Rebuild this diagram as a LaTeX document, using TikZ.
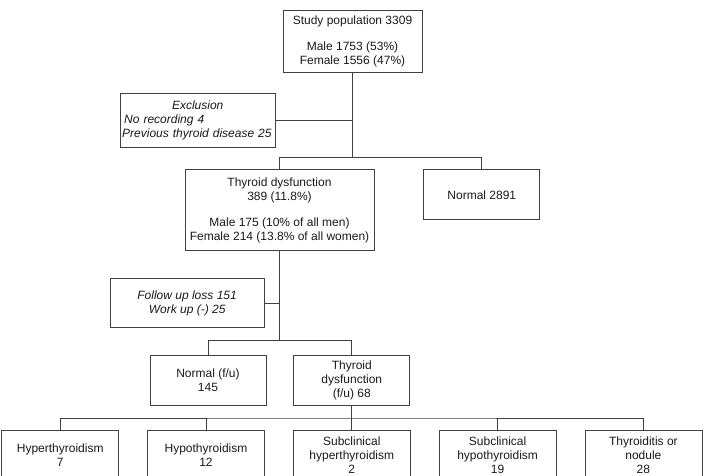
\documentclass[tikz,border=0pt]{standalone}
\usepackage{fontspec}
\setmainfont{Liberation Sans}
\usetikzlibrary{positioning}
\tikzset{
  font=\fontsize{12}{14}\selectfont,
  pbox/.style ={draw=black!75, line width=0.8pt, align=center, inner sep=2pt, minimum width=116pt, minimum height=50pt, text=black!90},
  leaf/.style ={pbox, minimum width=117pt},
  note/.style ={pbox, font=\fontsize{12}{14}\selectfont\itshape},
  link/.style ={draw=black!75, line width=0.8pt},
}

\begin{document}
\begin{tikzpicture}[x=1pt, y=-1pt]
  \useasboundingbox (0,0) rectangle (705,475);
  \node[pbox, minimum width=139pt, minimum height=62pt] (pop) at (352.5,41)
    {Study population 3309\\[12pt]Male 1753 (53\%)\\Female 1556 (47\%)};
  \node[note, minimum width=155pt, minimum height=54pt, text width=151pt, inner xsep=2pt, align=left, below left=21pt and 7pt of pop.south west] (excl)
    {\hfill Exclusion\hfill\null\\\hspace*{2pt}No recording 4\\Previous thyroid disease 25};
  \node[pbox, minimum width=189pt, minimum height=81pt, below=97pt of pop, xshift=-73pt] (td)
    {Thyroid dysfunction\\389 (11.8\%)\\[12pt]Male 175 (10\% of all men)\\Female 214 (13.8\% of all women)};
  \node[pbox, right=49pt of td, yshift=15.5pt] (norm) {Normal 2891};
  \node[note, minimum width=154pt, minimum height=49pt, below left=27pt and 15pt of td.south] (fu)
    {Follow up loss 151\\Work up (-) 25};
  \node[pbox, below=104pt of td, xshift=-71.5pt] (nfu) {Normal (f/u)\\145};
  \node[pbox, right=27pt of nfu] (tfu) {Thyroid\\dysfunction\\(f/u) 68};

  % outcomes of the follow-up
  \node[leaf, below=24pt of tfu] (sub1) {Subclinical\\hyperthyroidism\\2};
  \node[leaf, left=28pt of sub1] (hypo) {Hypothyroidism\\12};
  \node[leaf, left=28pt of hypo] (hyper) {Hyperthyroidism\\7};
  \node[leaf, right=28pt of sub1] (sub2) {Subclinical\\hypothyroidism\\19};
  \node[leaf, right=28pt of sub2] (thy) {Thyroiditis or\\nodule\\28};

  \coordinate[below=85pt of pop.south] (j1);
  \coordinate[below=89pt of td.south] (j2);
  \coordinate[below=12pt of tfu.south] (j3);

  \draw[link] (pop.south) -- (j1);
  \draw[link] (excl.east) -- (excl.east -| pop.south);
  \draw[link] (td.north) |- (j1) -| (norm.north);
  \draw[link] (td.south) -- (j2);
  \draw[link] (fu.east) -- (fu.east -| td.south);
  \draw[link] (nfu.north) |- (j2) -| (tfu.north);
  \draw[link] (tfu.south) -- (j3);
  \draw[link] (hyper.north) |- (j3) -| (thy.north);
  \foreach \n in {hypo,sub1,sub2} \draw[link] (\n.north) -- (\n.north |- j3);
\end{tikzpicture}
\end{document}
